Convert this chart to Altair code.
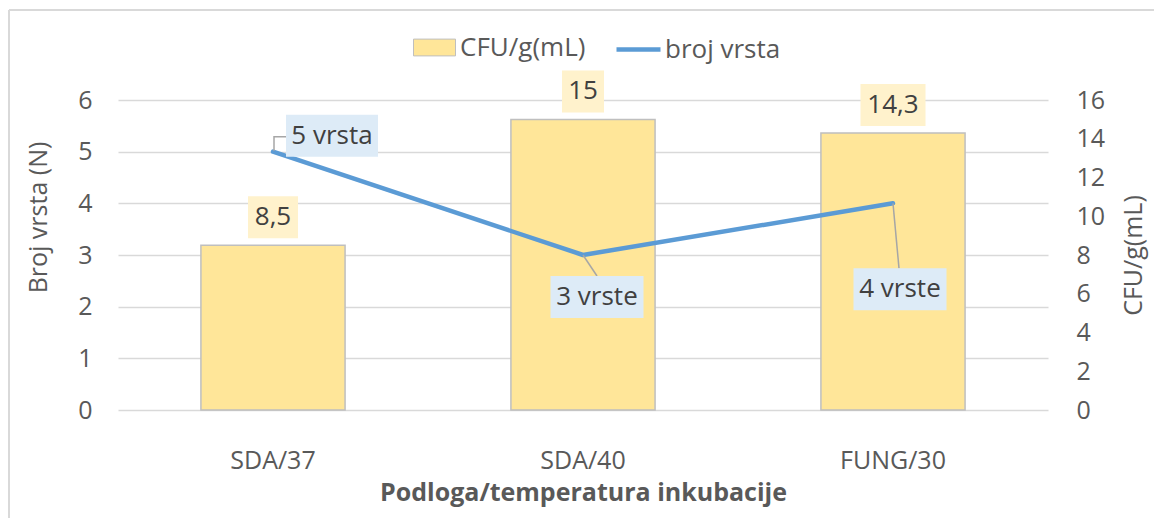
import altair as alt
import pandas as pd

categories = ["SDA/37", "SDA/40", "FUNG/30"]
cfu = [8.5, 15, 14.3]
species = [5, 3, 4]
species_labels = ["5 vrsta", "3 vrste", "4 vrste"]
cfu_labels = [f"{v:g}".replace(".", ",") for v in cfu]
series_names = ["CFU/g(mL)", "broj vrsta"]

df = pd.DataFrame({
    "cat": categories,
    "cfu": cfu,
    "n": species,
    "n_label": species_labels,
    "cfu_label": cfu_labels,
    "s_bar": [series_names[0]] * len(categories),
    "s_line": [series_names[1]] * len(categories),
})

FONT = "Open Sans"
TXT = "#595959"
LBL = "#404040"
GRID = "#D9D9D9"

x_enc = alt.X(
    "cat:N", sort=categories,
    scale=alt.Scale(paddingInner=0.535, paddingOuter=0.2675),
    axis=alt.Axis(
        title="Podloga/temperatura inkubacije", titleFontWeight="bold", titleFontSize=25,
        titleColor=TXT, titleFont=FONT, titleY=82, titleBaseline="middle",
        labelFontSize=25, labelColor=TXT, labelFont=FONT, labelPadding=38, labelAngle=0,
        domain=False, ticks=False, grid=False,
    ),
)

y_n = alt.Y(
    "n:Q", scale=alt.Scale(domain=[0, 6], nice=False),
    axis=alt.Axis(
        orient="left", values=[0, 1, 2, 3, 4, 5, 6], grid=True, gridColor=GRID, gridWidth=1.5,
        domain=False, ticks=False, labelPadding=26, labelFontSize=25, labelColor=TXT, labelFont=FONT,
        title="Broj vrsta (N)", titleFontSize=25, titleFontWeight="normal", titleColor=TXT, titleFont=FONT,
        titleX=-80, titleY=117, titleAngle=270, titleBaseline="middle", titleAlign="center",
    ),
)

y_cfu = alt.Y(
    "cfu:Q", scale=alt.Scale(domain=[0, 16], nice=False),
    axis=alt.Axis(
        orient="right", values=[0, 2, 4, 6, 8, 10, 12, 14, 16], grid=False,
        domain=False, ticks=False, labelPadding=28, labelFontSize=25, labelColor=TXT, labelFont=FONT,
        title="CFU/g(mL)", titleFontSize=25, titleFontWeight="normal", titleColor=TXT, titleFont=FONT,
        titleX=85, titleY=155, titleAngle=270, titleBaseline="middle", titleAlign="center",
    ),
)


def box(w, h):
    return f"M{-w/2},{-h/2}H{w/2}V{h/2}H{-w/2}Z"


bars = alt.Chart().mark_bar(stroke="#BFBFBF", strokeWidth=1.5).encode(
    x=x_enc, y=y_cfu,
    fill=alt.Fill(
        "s_bar:N",
        scale=alt.Scale(domain=[series_names[0]], range=["#FFE699"]),
        legend=alt.Legend(
            title=None, orient="none", legendX=295, legendY=-74, padding=0,
            symbolType="M-1,-0.4H1V0.4H-1Z", symbolSize=1764,
            symbolStrokeColor="#BFBFBF", symbolStrokeWidth=1,
            labelFontSize=26, labelColor=TXT, labelFont=FONT, labelOffset=4,
        ),
    ),
)

bar_label_w = {"SDA/37": 50, "SDA/40": 42, "FUNG/30": 65}
bar_label_layers = []
for c in categories:
    w = bar_label_w[c]
    bar_label_layers.append(
        alt.Chart().transform_filter(alt.datum.cat == c).mark_point(
            shape=box(w, 42), size=4, filled=True, fill="#FFF2CC", opacity=1,
            strokeWidth=0, yOffset=-28,
        ).encode(x=x_enc, y=y_cfu)
    )
    bar_label_layers.append(
        alt.Chart().transform_filter(alt.datum.cat == c).mark_text(
            dy=-28, fontSize=26, font=FONT, color=LBL, baseline="middle", align="center",
        ).encode(x=x_enc, y=y_cfu, text="cfu_label:N")
    )

bar_group = alt.layer(bars, *bar_label_layers)

line = alt.Chart().mark_line(strokeWidth=4.5, strokeCap="round", strokeJoin="round").encode(
    x=x_enc, y=y_n,
    stroke=alt.Stroke(
        "s_line:N",
        scale=alt.Scale(domain=[series_names[1]], range=["#5B9BD5"]),
        legend=alt.Legend(
            title=None, orient="none", legendX=496, legendY=-75, padding=0,
            symbolType="stroke", symbolSize=1936, symbolStrokeWidth=4.5,
            labelFontSize=26, labelColor=TXT, labelFont=FONT, labelOffset=2,
        ),
    ),
)

# per-label style: (box width, x offset, y offset, leader path)
line_label_style = {
    "SDA/37": (92, 59, -16, "M1,-1V-15H13"),
    "SDA/40": (93, 14, 42, "M0,0L14,21"),
    "FUNG/30": (93, 7, 86, "M0,0L6,65"),
}
line_label_layers = []
for c in categories:
    w, ox, oy, lead = line_label_style[c]
    base = alt.Chart().transform_filter(alt.datum.cat == c)
    line_label_layers.append(
        base.mark_point(shape=lead, size=4, filled=False, stroke="#A6A6A6", strokeWidth=1.5, opacity=1)
        .encode(x=x_enc, y=y_n)
    )
    line_label_layers.append(
        base.mark_point(shape=box(w, 42), size=4, filled=True, fill="#DDEBF7", opacity=1,
                        strokeWidth=0, xOffset=ox, yOffset=oy)
        .encode(x=x_enc, y=y_n)
    )
    line_label_layers.append(
        base.mark_text(dx=ox, dy=oy, fontSize=26, font=FONT, color=LBL, baseline="middle", align="center")
        .encode(x=x_enc, y=y_n, text="n_label:N")
    )

line_group = alt.layer(line, *line_label_layers)

frame_top = alt.Chart().mark_rule(stroke=GRID, strokeWidth=2).encode(
    x=alt.value(-109), x2=alt.value(1040), y=alt.value(-90)
)
frame_left = alt.Chart().mark_rule(stroke=GRID, strokeWidth=2).encode(
    x=alt.value(-109), y=alt.value(-90), y2=alt.value(420)
)

chart = alt.layer(frame_top, frame_left, bar_group, line_group, data=df).resolve_scale(
    y="independent"
).properties(
    width=930, height=310,
    padding={"left": 110, "top": 92, "right": 106, "bottom": 108},
    autosize=alt.AutoSizeParams(type="none"),
).configure_view(strokeWidth=0)

chart.save("out.html", embed_options={"renderer": "svg", "actions": False})
